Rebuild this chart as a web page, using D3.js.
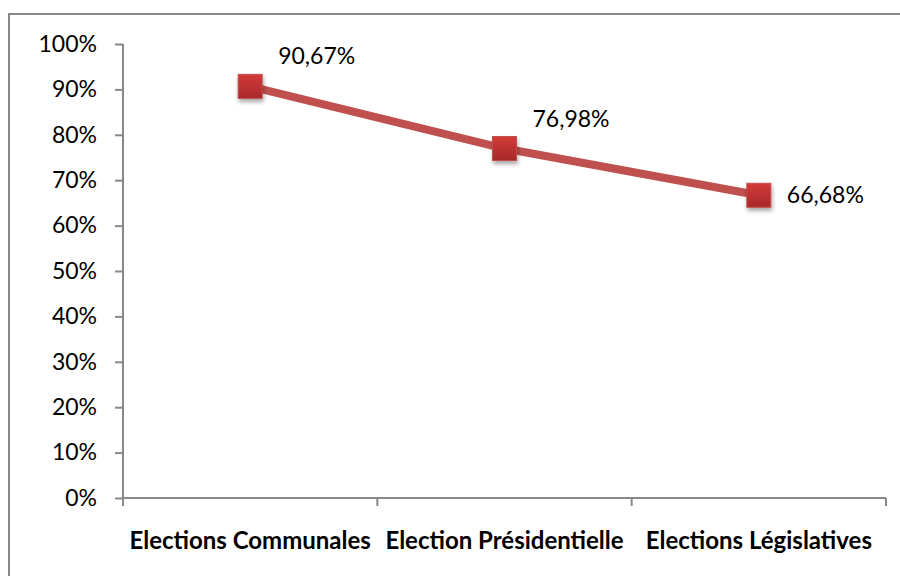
<!DOCTYPE html>
<html>
<head>
<meta charset="utf-8">
<script src="https://cdn.jsdelivr.net/npm/d3@7"></script>
<style>
  body { margin: 0; background: #fff; }
  svg { display: block; font-family: Lato, "Open Sans", sans-serif; }
</style>
</head>
<body>
<div id="chart"></div>
<script>
// data
const categories = ["Elections Communales", "Election Présidentielle", "Elections Législatives"];
const rates = [90.67, 76.98, 66.68];
const yTicks = [0, 10, 20, 30, 40, 50, 60, 70, 80, 90, 100];

var W = 900, H = 576;
var margin = { left: 123, right: 14, top: 44, bottom: 78 };
var width = W - margin.left - margin.right;
var height = H - margin.top - margin.bottom;

var svg = d3.select("#chart").append("svg")
    .attr("width", W)
    .attr("height", H);

// outer frame (runs off the right / bottom edge)
svg.append("rect")
    .attr("x", 9).attr("y", 14)
    .attr("width", W + 10).attr("height", H + 10)
    .attr("fill", "none")
    .attr("stroke", "#888")
    .attr("stroke-width", 2);

var defs = svg.append("defs");
var grad = defs.append("linearGradient")
    .attr("id", "markerGrad")
    .attr("x1", 0).attr("y1", 0).attr("x2", 0).attr("y2", 1);
grad.append("stop").attr("offset", "0%").attr("stop-color", "#d33b38");
grad.append("stop").attr("offset", "100%").attr("stop-color", "#a8282a");

var shadow = defs.append("filter").attr("id", "shadow")
    .attr("x", "-50%").attr("y", "-50%").attr("width", "200%").attr("height", "200%");
shadow.append("feDropShadow")
    .attr("dx", 1).attr("dy", 3).attr("stdDeviation", 2)
    .attr("flood-color", "#000").attr("flood-opacity", 0.35);

var g = svg.append("g")
    .attr("transform", "translate(" + margin.left + "," + margin.top + ")");

var x = d3.scaleBand()
    .domain(categories)
    .range([0, width]);

var y = d3.scaleLinear()
    .domain([0, 100])
    .range([height, 0]);

// y axis
var yAxis = g.append("g")
    .call(d3.axisLeft(y).tickValues(yTicks).tickSize(8).tickPadding(18)
        .tickFormat(d => d + "%"));
yAxis.selectAll("text")
    .attr("font-size", "23px")
    .attr("font-family", "Lato, 'Open Sans', sans-serif")
    .attr("fill", "#000");
yAxis.selectAll("line, path").attr("stroke", "#888").attr("stroke-width", 2);
yAxis.select(".domain").attr("d", "M0," + height + "V0");

// x axis with boundary ticks
var xg = g.append("g").attr("transform", "translate(0," + height + ")");
xg.append("line")
    .attr("x1", 0).attr("x2", width)
    .attr("stroke", "#888").attr("stroke-width", 2);
xg.selectAll(".xtick")
    .data(d3.range(categories.length + 1))
    .enter().append("line")
    .attr("class", "xtick")
    .attr("x1", i => i * x.step()).attr("x2", i => i * x.step())
    .attr("y1", 0).attr("y2", 8)
    .attr("stroke", "#888").attr("stroke-width", 2);
xg.selectAll(".xlabel")
    .data(categories)
    .enter().append("text")
    .attr("class", "xlabel")
    .attr("x", d => x(d) + x.bandwidth() / 2)
    .attr("y", 51)
    .attr("text-anchor", "middle")
    .attr("font-size", "24px")
    .attr("font-weight", "bold")
    .attr("fill", "#000")
    .text(d => d);

var pts = categories.map((c, i) => ({ cat: c, value: rates[i] }));

var line = d3.line()
    .x(d => x(d.cat) + x.bandwidth() / 2)
    .y(d => y(d.value));

g.append("path")
    .datum(pts)
    .attr("d", line)
    .attr("fill", "none")
    .attr("stroke", "#c0504d")
    .attr("stroke-width", 8)
    .attr("stroke-linejoin", "round");

var ms = 24;
g.selectAll(".marker")
    .data(pts)
    .enter().append("rect")
    .attr("class", "marker")
    .attr("x", d => x(d.cat) + x.bandwidth() / 2 - ms / 2)
    .attr("y", d => y(d.value) - ms / 2)
    .attr("width", ms).attr("height", ms)
    .attr("fill", "url(#markerGrad)")
    .attr("stroke", "#c0504d")
    .attr("stroke-width", 1)
    .attr("filter", "url(#shadow)");

// labels: above-right, except the last which sits to the right
var last = pts.length - 1;
g.selectAll(".vlabel")
    .data(pts)
    .enter().append("text")
    .attr("class", "vlabel")
    .attr("x", d => x(d.cat) + x.bandwidth() / 2 + 28)
    .attr("y", (d, i) => y(d.value) + (i === last ? 8 : -22))
    .attr("font-size", "23px")
    .attr("fill", "#000")
    .text(d => d3.format(".2f")(d.value).replace(".", ",") + "%");
</script>
</body>
</html>
